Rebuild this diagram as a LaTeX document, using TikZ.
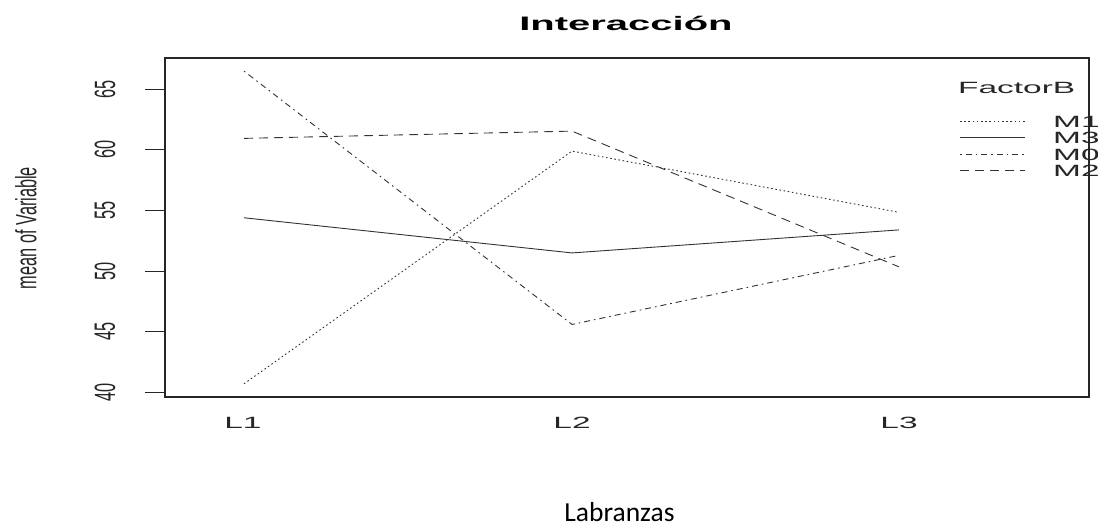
\documentclass[tikz,border=0pt]{standalone}
\usepackage{fontspec}
\setmainfont{Liberation Sans}
\newfontfamily\calfont{Carlito}
\newcommand\hs[1]{\scalebox{2.05}[1]{#1}}
\newcommand\vs[1]{\scalebox{1}[1.8]{#1}}
\newcommand\Y[1]{392.3-(#1-40)*12.12}
\begin{document}
\begin{tikzpicture}[x=1pt,y=-1pt,
  rtext/.style={font=\fontsize{16.3}{18}\selectfont, inner sep=0pt, text=black!85},
  serie/.style={line width=0.9pt, black!80, line join=round},
  sdotted/.style={serie, dash pattern=on 1.6pt off 2.6pt},
  sdashed/.style={serie, dash pattern=on 9pt off 6pt},
  sdotdash/.style={serie, dash pattern=on 1.6pt off 4pt on 6pt off 4pt},
  ssolid/.style={serie},
  axisline/.style={line width=1.1pt, black!85}
]
\useasboundingbox (0,0) rectangle (1098,527);

% title
\node[rtext, font=\fontsize{19.5}{22}\selectfont\bfseries, anchor=base, text=black] (title) at (626,31) {\hs{Interacción}};

% box
\draw[axisline] (165,58) rectangle (1089,397);

% y ticks
\foreach \v in {40,45,50,55,60,65} {
  \draw[axisline, line width=0.9pt] (145,{\Y{\v}}) -- (165,{\Y{\v}});
  \node[rtext, rotate=90] (t\v) at (105,{\Y{\v}}) {\vs{\v}};
}
\node[rtext, rotate=90] (ylab) at (26,228) {\vs{mean of Variable}};

% x labels
\node[rtext, anchor=base] (l1) at (243,428) {\hs{L1}};
\node[rtext, anchor=base] (l2) at (572,428) {\hs{L2}};
\node[rtext, anchor=base] (l3) at (899,428) {\hs{L3}};

\node[font=\calfont\fontsize{27.5}{30}\selectfont, anchor=base, inner sep=0pt] (xlab) at (619.5,521) {Labranzas};

% data points
\coordinate (m0a) at (244,{\Y{66.5}});
\coordinate (m0b) at (572,{\Y{45.6}});
\coordinate (m0c) at (899,{\Y{51.3}});
\coordinate (m1a) at (244,{\Y{40.7}});
\coordinate (m1b) at (572,{\Y{59.9}});
\coordinate (m1c) at (899,{\Y{54.85}});
\coordinate (m3a) at (244,{\Y{54.4}});
\coordinate (m3b) at (572,{\Y{51.5}});
\coordinate (m3c) at (899,{\Y{53.4}});
\coordinate (m2a) at (244,{\Y{60.95}});
\coordinate (m2b) at (572,{\Y{61.55}});
\coordinate (m2c) at (899,{\Y{50.35}});

\draw[sdotdash] (m0a) -- (m0b) -- (m0c);
\draw[sdotted] (m1a) -- (m1b) -- (m1c);
\draw[ssolid] (m3a) -- (m3b) -- (m3c);
\draw[sdashed] (m2a) -- (m2b) -- (m2c);

% legend
\node[rtext, anchor=base west] (legtitle) at (958,93) {\hs{FactorB}};
\coordinate (g1a) at (960,121); \coordinate (g1b) at (1025,121);
\coordinate (g2a) at (960,137.5); \coordinate (g2b) at (1025,137.5);
\coordinate (g3a) at (960,154); \coordinate (g3b) at (1025,154);
\coordinate (g4a) at (960,170.5); \coordinate (g4b) at (1025,170.5);
\draw[sdotted] (g1a) -- (g1b);
\draw[ssolid] (g2a) -- (g2b);
\draw[sdotdash] (g3a) -- (g3b);
\draw[sdashed] (g4a) -- (g4b);
\node[rtext, anchor=base west] (lm1) at (1053,127) {\hs{M1}};
\node[rtext, anchor=base west] (lm3) at (1053,143.5) {\hs{M3}};
\node[rtext, anchor=base west] (lm0) at (1053,160) {\hs{M0}};
\node[rtext, anchor=base west] (lm2) at (1053,176.5) {\hs{M2}};
\end{tikzpicture}
\end{document}
